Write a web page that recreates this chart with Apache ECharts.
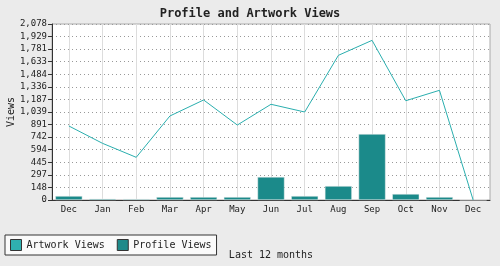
<!DOCTYPE html>
<html><head><meta charset="utf-8">
<script src="https://cdn.jsdelivr.net/npm/echarts@6/dist/echarts.min.js"></script>
<style>html,body{margin:0;padding:0;background:#ebebeb}#c{width:500px;height:266px}</style>
</head><body><div id="c"></div>
<script>
const months = ['Dec','Jan','Feb','Mar','Apr','May','Jun','Jul','Aug','Sep','Oct','Nov','Dec'];
const artworkViews = [874, 669, 504, 992, 1181, 885, 1130, 1039, 1708, 1885, 1172, 1295, 0];
const profileViews = [47, 15, 12, 35, 35, 35, 272, 47, 165, 779, 71, 35, 0];
const yTickLabels = ['0','148','297','445','594','742','891','1,039','1,187','1,336','1,484','1,633','1,781','1,929','2,078'];
const yMax = 2078;
const yStep = yMax / (yTickLabels.length - 1);
const font = 'DejaVu Sans Mono';

const chart = echarts.init(document.getElementById('c'), null, {renderer:'canvas'});
chart.setOption({
  backgroundColor: '#ebebeb',
  animation: false,
  textStyle: {fontFamily: font},
  title: {
    text: 'Profile and Artwork Views', left: 'center', top: 3,
    textStyle: {fontFamily: font, fontSize: 12, fontWeight: 'bold', color: '#222'}
  },
  legend: {
    left: 5, top: 235, orient: 'horizontal',
    padding: [4, 5], itemGap: 12, itemWidth: 11, itemHeight: 11,
    borderColor: '#333', borderWidth: 1, backgroundColor: '#fafafa',
    textStyle: {fontFamily: font, fontSize: 10, color: '#222'},
    data: [
      {name: 'Artwork Views', icon: 'rect', itemStyle: {color: '#2fb0b0', borderColor: '#333', borderWidth: 1}},
      {name: 'Profile Views', icon: 'rect', itemStyle: {color: '#1e8a8a', borderColor: '#333', borderWidth: 1}}
    ]
  },
  grid: {
    left: 52, right: 10, top: 24, bottom: 66,
    containLabel: false, outerBoundsMode: 'none',
    show: true, backgroundColor: '#ffffff', borderColor: '#aaaaaa', borderWidth: 1
  },
  xAxis: {
    type: 'category', data: months, boundaryGap: true,
    name: 'Last 12 months', nameLocation: 'middle', nameGap: 50, nameMoveOverlap: false,
    nameTextStyle: {fontFamily: font, fontSize: 10, color: '#222'},
    axisLine: {lineStyle: {color: '#333', width: 1}},
    axisTick: {alignWithLabel: true, length: 4, lineStyle: {color: '#333'}},
    axisLabel: {fontFamily: font, fontSize: 9, color: '#222', margin: 5, interval: 0},
    splitLine: {show: true, interval: 0, alignWithLabel: true, lineStyle: {color: '#dddddd', width: 1}}
  },
  yAxis: {
    type: 'value', min: 0, max: yMax, interval: yStep,
    name: 'Views', nameLocation: 'middle', nameGap: 36, nameRotate: 90, nameMoveOverlap: false,
    nameTextStyle: {fontFamily: font, fontSize: 10, color: '#222'},
    axisLine: {show: true, lineStyle: {color: '#333', width: 1}},
    axisTick: {show: true, length: 4, lineStyle: {color: '#333'}},
    axisLabel: {
      fontFamily: font, fontSize: 9, color: '#222', margin: 5,
      formatter: v => yTickLabels[Math.round(v / yStep)] || ''
    },
    splitLine: {show: true, lineStyle: {color: '#999', type: [1, 3], width: 1}}
  },
  series: [
    {
      name: 'Artwork Views', type: 'line', data: artworkViews, z: 3,
      showSymbol: false, symbol: 'none',
      lineStyle: {color: '#2aaeae', width: 1},
      itemStyle: {color: '#2fb0b0'}
    },
    {
      name: 'Profile Views', type: 'bar', data: profileViews, z: 2,
      barWidth: 27,
      itemStyle: {color: '#1b8a8a', borderColor: '#eeeeee', borderWidth: 0.5}
    }
  ]
});
</script></body></html>
